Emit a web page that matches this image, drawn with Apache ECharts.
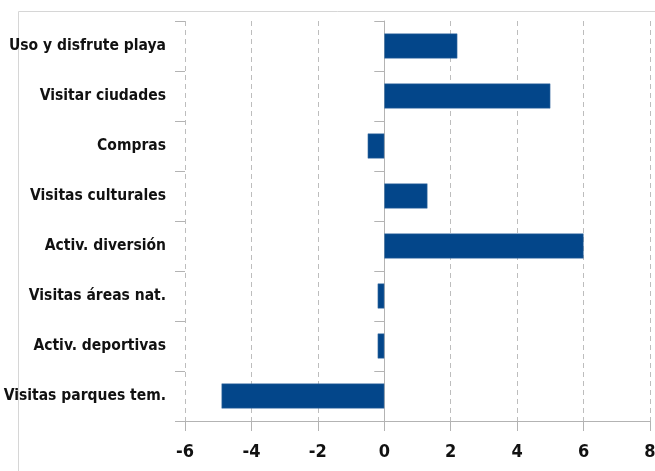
<!DOCTYPE html>
<html>
<head>
<meta charset="utf-8">
<script src="https://cdn.jsdelivr.net/npm/echarts@6/dist/echarts.min.js"></script>
<style>
    html, body { margin: 0; padding: 0; background: #fff; }
    #chart { width: 655px; height: 471px; }
</style>
</head>
<body>
<div id="chart"></div>
<script>
// categories top to bottom
var categories = ['Uso y disfrute playa', 'Visitar ciudades', 'Compras', 'Visitas culturales',
    'Activ. diversión', 'Visitas áreas nat.', 'Activ. deportivas', 'Visitas parques tem.'];
var values = [2.2, 5.0, -0.5, 1.3, 6.0, -0.2, -0.2, -4.9];
var xMin = -6;
var xMax = 8;
var xStep = 2;

var fontName = "'DejaVu Sans Condensed', sans-serif";
var axisGray = '#b3b3b3';

var chart = echarts.init(document.getElementById('chart'));

var option = {
    animation: false,
    grid: {
        left: 185,
        right: 5,
        top: 21,
        bottom: 50,
        outerBoundsMode: 'none'
    },
    graphic: [{
        type: 'rect',
        silent: true,
        shape: { x: 18.5, y: 11.5, width: 700, height: 500 },
        style: { fill: 'none', stroke: '#d6d6d6', lineWidth: 1 }
    }],
    xAxis: {
        type: 'value',
        min: xMin,
        max: xMax,
        interval: xStep,
        axisLine: { show: true, onZero: false, lineStyle: { color: axisGray } },
        axisTick: { show: true, length: 10, lineStyle: { color: axisGray } },
        splitLine: { show: true, lineStyle: { color: '#bdbdbd', type: [5, 4] } },
        axisLabel: {
            margin: 22,
            color: '#111',
            fontFamily: fontName,
            fontWeight: 'bold',
            fontSize: 18
        }
    },
    yAxis: [{
        type: 'category',
        data: categories,
        inverse: true,
        position: 'left',
        axisLine: { show: false, onZero: false },
        axisTick: { show: true, length: 10, lineStyle: { color: axisGray } },
        axisLabel: {
            margin: 19,
            color: '#111',
            fontFamily: fontName,
            fontWeight: 'bold',
            fontSize: 15.5
        }
    }, {
        type: 'category',
        data: categories,
        inverse: true,
        position: 'left',
        axisLine: { show: true, onZero: true, lineStyle: { color: axisGray } },
        axisTick: { show: true, length: 10, lineStyle: { color: axisGray } },
        axisLabel: { show: false }
    }],
    series: [{
        type: 'bar',
        data: values,
        yAxisIndex: 0,
        barWidth: 25,
        itemStyle: { color: '#03468a', borderColor: '#4d7aa8', borderWidth: 0.5 }
    }]
};

chart.setOption(option);
</script>
</body>
</html>
